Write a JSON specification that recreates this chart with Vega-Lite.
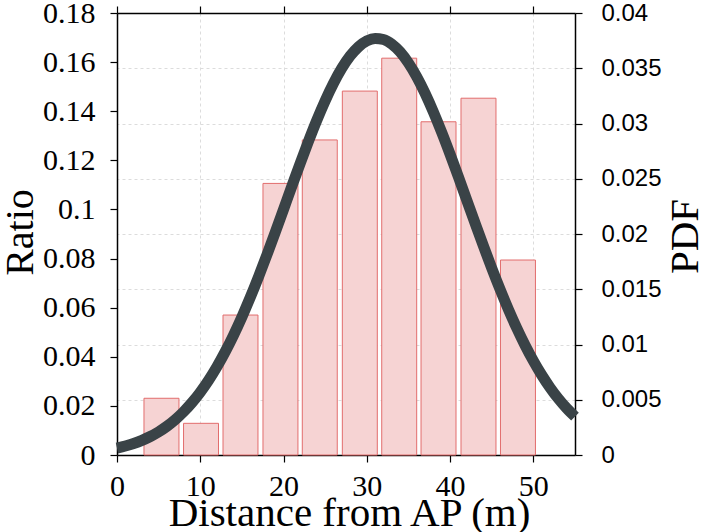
{
  "$schema": "https://vega.github.io/schema/vega-lite/v6.json",
  "width": 458,
  "height": 442,
  "autosize": {"type": "none"},
  "padding": {"left": 117, "top": 13, "right": 128, "bottom": 77},
  "background": "white",
  "config": {
    "view": {"stroke": null},
    "axis": {
      "domainColor": "black",
      "domainWidth": 1.5,
      "tickColor": "black",
      "tickWidth": 1.2,
      "tickSize": 7,
      "labelColor": "black",
      "titleColor": "black",
      "gridColor": "#dcdcdc",
      "gridDash": [3, 3],
      "gridWidth": 1
    }
  },
  "datasets": {
    "bins": [
      {"lo": 3.24, "hi": 7.44, "ratio": 0.0231},
      {"lo": 7.99, "hi": 12.19, "ratio": 0.0129},
      {"lo": 12.73, "hi": 16.93, "ratio": 0.057},
      {"lo": 17.53, "hi": 21.73, "ratio": 0.1106},
      {"lo": 22.25, "hi": 26.45, "ratio": 0.1283},
      {"lo": 27.06, "hi": 31.26, "ratio": 0.1482},
      {"lo": 31.79, "hi": 35.99, "ratio": 0.1616},
      {"lo": 36.51, "hi": 40.71, "ratio": 0.1357},
      {"lo": 41.31, "hi": 45.51, "ratio": 0.1453},
      {"lo": 46.05, "hi": 50.25, "ratio": 0.0794}
    ],
    "fit": [
      {"d": 0, "pdf": 0.000627}, {"d": 1, "pdf": 0.000812}, {"d": 2, "pdf": 0.001042},
      {"d": 3, "pdf": 0.001327}, {"d": 4, "pdf": 0.001675}, {"d": 5, "pdf": 0.002098},
      {"d": 6, "pdf": 0.002605}, {"d": 7, "pdf": 0.003206}, {"d": 8, "pdf": 0.003913},
      {"d": 9, "pdf": 0.004737}, {"d": 10, "pdf": 0.005686}, {"d": 11, "pdf": 0.006768},
      {"d": 12, "pdf": 0.007991}, {"d": 13, "pdf": 0.009352}, {"d": 14, "pdf": 0.010854},
      {"d": 15, "pdf": 0.012493}, {"d": 16, "pdf": 0.014257}, {"d": 17, "pdf": 0.016134},
      {"d": 18, "pdf": 0.018108}, {"d": 19, "pdf": 0.020151}, {"d": 20, "pdf": 0.022236},
      {"d": 21, "pdf": 0.024332}, {"d": 22, "pdf": 0.026402}, {"d": 23, "pdf": 0.028408},
      {"d": 24, "pdf": 0.03031}, {"d": 25, "pdf": 0.032068}, {"d": 26, "pdf": 0.033645},
      {"d": 27, "pdf": 0.035003}, {"d": 28, "pdf": 0.03611}, {"d": 29, "pdf": 0.03694},
      {"d": 30, "pdf": 0.037472}, {"d": 31, "pdf": 0.037694}, {"d": 32, "pdf": 0.037599},
      {"d": 33, "pdf": 0.037189}, {"d": 34, "pdf": 0.036476}, {"d": 35, "pdf": 0.035477},
      {"d": 36, "pdf": 0.034216}, {"d": 37, "pdf": 0.032723}, {"d": 38, "pdf": 0.031033},
      {"d": 39, "pdf": 0.029183}, {"d": 40, "pdf": 0.027213}, {"d": 41, "pdf": 0.025164},
      {"d": 42, "pdf": 0.023075}, {"d": 43, "pdf": 0.020981}, {"d": 44, "pdf": 0.018917},
      {"d": 45, "pdf": 0.016914}, {"d": 46, "pdf": 0.014996}, {"d": 47, "pdf": 0.013183},
      {"d": 48, "pdf": 0.011494}, {"d": 49, "pdf": 0.009937}, {"d": 50, "pdf": 0.008518},
      {"d": 51, "pdf": 0.00724}, {"d": 52, "pdf": 0.006103}, {"d": 53, "pdf": 0.005101},
      {"d": 54, "pdf": 0.004228}, {"d": 55, "pdf": 0.003475}
    ]
  },
  "layer": [
    {
      "data": {"name": "bins"},
      "mark": {"type": "rect", "fill": "#f6d3d3", "stroke": "#e26d6d", "strokeWidth": 1},
      "encoding": {
        "x": {
          "field": "lo", "type": "quantitative",
          "scale": {"domain": [0, 55], "nice": false, "zero": false},
          "axis": {
            "orient": "bottom",
            "values": [0, 10, 20, 30, 40, 50],
            "grid": true,
            "labelFont": "Liberation Serif",
            "labelFontSize": 30,
            "labelPadding": 9,
            "labelDx": 3,
            "labelFlush": false,
            "title": "Distance from AP (m)",
            "titleFont": "Liberation Serif",
            "titleFontSize": 41,
            "titleFontWeight": "normal",
            "titleBaseline": "alphabetic",
            "titleAlign": "center",
            "titleX": 232,
            "titleY": 70
          }
        },
        "x2": {"field": "hi"},
        "y": {
          "field": "ratio", "type": "quantitative",
          "scale": {"domain": [0, 0.18], "nice": false},
          "axis": {
            "orient": "left",
            "values": [0, 0.02, 0.04, 0.06, 0.08, 0.1, 0.12, 0.14, 0.16, 0.18],
            "format": "~g",
            "grid": false,
            "labelFont": "Liberation Serif",
            "labelFontSize": 30,
            "labelPadding": 15,
            "labelFlush": false,
            "title": "Ratio",
            "titleFont": "Liberation Serif",
            "titleFontSize": 40,
            "titleFontWeight": "normal",
            "titleAngle": -90,
            "titleBaseline": "alphabetic",
            "titleAlign": "center",
            "titleX": -85,
            "titleY": 219
          }
        },
        "y2": {"datum": 0}
      }
    },
    {
      "data": {"name": "fit"},
      "mark": {"type": "line", "color": "#3a4347", "strokeWidth": 11, "strokeCap": "butt", "interpolate": "monotone"},
      "encoding": {
        "x": {
          "field": "d", "type": "quantitative",
          "scale": {"domain": [0, 55], "nice": false, "zero": false},
          "axis": {
            "orient": "top",
            "values": [0, 10, 20, 30, 40, 50],
            "labels": false,
            "grid": false,
            "title": null
          }
        },
        "y": {
          "field": "pdf", "type": "quantitative",
          "scale": {"domain": [0, 0.04], "nice": false},
          "axis": {
            "orient": "right",
            "values": [0, 0.005, 0.01, 0.015, 0.02, 0.025, 0.03, 0.035, 0.04],
            "format": "~g",
            "grid": true,
            "labelFont": "Liberation Sans",
            "labelFontSize": 24,
            "labelPadding": 19,
            "labelFlush": false,
            "title": "PDF",
            "titleFont": "Liberation Serif",
            "titleFontSize": 41,
            "titleFontWeight": "normal",
            "titleAngle": -90,
            "titleBaseline": "alphabetic",
            "titleAlign": "center",
            "titleX": 122,
            "titleY": 223
          }
        }
      }
    }
  ],
  "resolve": {"scale": {"y": "independent"}, "axis": {"x": "independent", "y": "independent"}}
}
